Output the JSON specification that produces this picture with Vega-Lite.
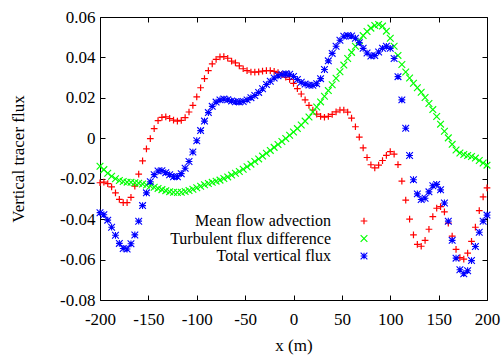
{
"$schema":"https://vega.github.io/schema/vega-lite/v6.json",
"width":387,"height":283,
"autosize":"none",
"padding":{"left":100,"top":17,"right":17,"bottom":59},
"background":"white",
"config":{
 "view":{"stroke":"black","strokeWidth":1},
 "font":"Liberation Serif",
 "axis":{"grid":false,"domain":false,"tickColor":"black","tickSize":-5,"tickWidth":1,"labelFlush":false,"labelOverlap":false,"labelFont":"Liberation Serif","labelFontSize":17,"labelColor":"black","titleFont":"Liberation Serif","titleFontSize":17,"titleFontWeight":"normal","titleColor":"black"},
 "legend":{"labelFont":"Liberation Serif","labelFontSize":16,"labelColor":"black","labelAlign":"right","labelLimit":0,"rowPadding":1.5,"symbolStrokeWidth":1.2,"symbolSize":45,"labelOffset":-41}
},
"datasets":{"d":[
{"x":-200,"flux":-0.0220,"series":"Mean flow advection"},{"x":-196,"flux":-0.0217,"series":"Mean flow advection"},{"x":-192,"flux":-0.0224,"series":"Mean flow advection"},{"x":-188,"flux":-0.0240,"series":"Mean flow advection"},{"x":-184,"flux":-0.0270,"series":"Mean flow advection"},{"x":-180,"flux":-0.0302,"series":"Mean flow advection"},{"x":-176,"flux":-0.0318,"series":"Mean flow advection"},{"x":-172,"flux":-0.0318,"series":"Mean flow advection"},{"x":-168,"flux":-0.0292,"series":"Mean flow advection"},{"x":-164,"flux":-0.0237,"series":"Mean flow advection"},{"x":-160,"flux":-0.0177,"series":"Mean flow advection"},{"x":-156,"flux":-0.0112,"series":"Mean flow advection"},{"x":-152,"flux":-0.0052,"series":"Mean flow advection"},{"x":-148,"flux":-0.0002,"series":"Mean flow advection"},{"x":-144,"flux":0.0048,"series":"Mean flow advection"},{"x":-140,"flux":0.0087,"series":"Mean flow advection"},{"x":-136,"flux":0.0103,"series":"Mean flow advection"},{"x":-132,"flux":0.0106,"series":"Mean flow advection"},{"x":-128,"flux":0.0098,"series":"Mean flow advection"},{"x":-124,"flux":0.0090,"series":"Mean flow advection"},{"x":-120,"flux":0.0085,"series":"Mean flow advection"},{"x":-116,"flux":0.0089,"series":"Mean flow advection"},{"x":-112,"flux":0.0102,"series":"Mean flow advection"},{"x":-108,"flux":0.0130,"series":"Mean flow advection"},{"x":-104,"flux":0.0163,"series":"Mean flow advection"},{"x":-100,"flux":0.0205,"series":"Mean flow advection"},{"x":-96,"flux":0.0250,"series":"Mean flow advection"},{"x":-92,"flux":0.0295,"series":"Mean flow advection"},{"x":-88,"flux":0.0335,"series":"Mean flow advection"},{"x":-84,"flux":0.0368,"series":"Mean flow advection"},{"x":-80,"flux":0.0390,"series":"Mean flow advection"},{"x":-76,"flux":0.0403,"series":"Mean flow advection"},{"x":-72,"flux":0.0404,"series":"Mean flow advection"},{"x":-68,"flux":0.0396,"series":"Mean flow advection"},{"x":-64,"flux":0.0382,"series":"Mean flow advection"},{"x":-60,"flux":0.0373,"series":"Mean flow advection"},{"x":-56,"flux":0.0358,"series":"Mean flow advection"},{"x":-52,"flux":0.0344,"series":"Mean flow advection"},{"x":-48,"flux":0.0335,"series":"Mean flow advection"},{"x":-44,"flux":0.0328,"series":"Mean flow advection"},{"x":-40,"flux":0.0327,"series":"Mean flow advection"},{"x":-36,"flux":0.0329,"series":"Mean flow advection"},{"x":-32,"flux":0.0332,"series":"Mean flow advection"},{"x":-28,"flux":0.0335,"series":"Mean flow advection"},{"x":-24,"flux":0.0335,"series":"Mean flow advection"},{"x":-20,"flux":0.0331,"series":"Mean flow advection"},{"x":-16,"flux":0.0325,"series":"Mean flow advection"},{"x":-12,"flux":0.0316,"series":"Mean flow advection"},{"x":-8,"flux":0.0302,"series":"Mean flow advection"},{"x":-4,"flux":0.0291,"series":"Mean flow advection"},{"x":0,"flux":0.0272,"series":"Mean flow advection"},{"x":4,"flux":0.0246,"series":"Mean flow advection"},{"x":8,"flux":0.0219,"series":"Mean flow advection"},{"x":12,"flux":0.0190,"series":"Mean flow advection"},{"x":16,"flux":0.0163,"series":"Mean flow advection"},{"x":20,"flux":0.0140,"series":"Mean flow advection"},{"x":24,"flux":0.0120,"series":"Mean flow advection"},{"x":28,"flux":0.0108,"series":"Mean flow advection"},{"x":32,"flux":0.0104,"series":"Mean flow advection"},{"x":36,"flux":0.0108,"series":"Mean flow advection"},{"x":40,"flux":0.0118,"series":"Mean flow advection"},{"x":44,"flux":0.0131,"series":"Mean flow advection"},{"x":48,"flux":0.0140,"series":"Mean flow advection"},{"x":52,"flux":0.0140,"series":"Mean flow advection"},{"x":56,"flux":0.0129,"series":"Mean flow advection"},{"x":60,"flux":0.0100,"series":"Mean flow advection"},{"x":64,"flux":0.0057,"series":"Mean flow advection"},{"x":68,"flux":0.0006,"series":"Mean flow advection"},{"x":72,"flux":-0.0047,"series":"Mean flow advection"},{"x":76,"flux":-0.0095,"series":"Mean flow advection"},{"x":80,"flux":-0.0131,"series":"Mean flow advection"},{"x":84,"flux":-0.0146,"series":"Mean flow advection"},{"x":88,"flux":-0.0133,"series":"Mean flow advection"},{"x":92,"flux":-0.0110,"series":"Mean flow advection"},{"x":96,"flux":-0.0085,"series":"Mean flow advection"},{"x":100,"flux":-0.0066,"series":"Mean flow advection"},{"x":104,"flux":-0.0078,"series":"Mean flow advection"},{"x":108,"flux":-0.0130,"series":"Mean flow advection"},{"x":112,"flux":-0.0212,"series":"Mean flow advection"},{"x":116,"flux":-0.0306,"series":"Mean flow advection"},{"x":120,"flux":-0.0400,"series":"Mean flow advection"},{"x":124,"flux":-0.0478,"series":"Mean flow advection"},{"x":128,"flux":-0.0525,"series":"Mean flow advection"},{"x":132,"flux":-0.0534,"series":"Mean flow advection"},{"x":136,"flux":-0.0505,"series":"Mean flow advection"},{"x":140,"flux":-0.0450,"series":"Mean flow advection"},{"x":144,"flux":-0.0388,"series":"Mean flow advection"},{"x":148,"flux":-0.0346,"series":"Mean flow advection"},{"x":152,"flux":-0.0338,"series":"Mean flow advection"},{"x":156,"flux":-0.0364,"series":"Mean flow advection"},{"x":160,"flux":-0.0420,"series":"Mean flow advection"},{"x":164,"flux":-0.0484,"series":"Mean flow advection"},{"x":168,"flux":-0.0550,"series":"Mean flow advection"},{"x":172,"flux":-0.0590,"series":"Mean flow advection"},{"x":176,"flux":-0.0598,"series":"Mean flow advection"},{"x":180,"flux":-0.0568,"series":"Mean flow advection"},{"x":184,"flux":-0.0510,"series":"Mean flow advection"},{"x":188,"flux":-0.0440,"series":"Mean flow advection"},{"x":192,"flux":-0.0358,"series":"Mean flow advection"},{"x":196,"flux":-0.0290,"series":"Mean flow advection"},{"x":200,"flux":-0.0245,"series":"Mean flow advection"},
{"x":-200,"flux":-0.0138,"series":"Turbulent flux difference"},{"x":-196,"flux":-0.0155,"series":"Turbulent flux difference"},{"x":-192,"flux":-0.0173,"series":"Turbulent flux difference"},{"x":-188,"flux":-0.0188,"series":"Turbulent flux difference"},{"x":-184,"flux":-0.0200,"series":"Turbulent flux difference"},{"x":-180,"flux":-0.0209,"series":"Turbulent flux difference"},{"x":-176,"flux":-0.0214,"series":"Turbulent flux difference"},{"x":-172,"flux":-0.0217,"series":"Turbulent flux difference"},{"x":-168,"flux":-0.0218,"series":"Turbulent flux difference"},{"x":-164,"flux":-0.0220,"series":"Turbulent flux difference"},{"x":-160,"flux":-0.0222,"series":"Turbulent flux difference"},{"x":-156,"flux":-0.0226,"series":"Turbulent flux difference"},{"x":-152,"flux":-0.0231,"series":"Turbulent flux difference"},{"x":-148,"flux":-0.0236,"series":"Turbulent flux difference"},{"x":-144,"flux":-0.0242,"series":"Turbulent flux difference"},{"x":-140,"flux":-0.0248,"series":"Turbulent flux difference"},{"x":-136,"flux":-0.0254,"series":"Turbulent flux difference"},{"x":-132,"flux":-0.0259,"series":"Turbulent flux difference"},{"x":-128,"flux":-0.0264,"series":"Turbulent flux difference"},{"x":-124,"flux":-0.0267,"series":"Turbulent flux difference"},{"x":-120,"flux":-0.0268,"series":"Turbulent flux difference"},{"x":-116,"flux":-0.0267,"series":"Turbulent flux difference"},{"x":-112,"flux":-0.0263,"series":"Turbulent flux difference"},{"x":-108,"flux":-0.0258,"series":"Turbulent flux difference"},{"x":-104,"flux":-0.0252,"series":"Turbulent flux difference"},{"x":-100,"flux":-0.0245,"series":"Turbulent flux difference"},{"x":-96,"flux":-0.0237,"series":"Turbulent flux difference"},{"x":-92,"flux":-0.0230,"series":"Turbulent flux difference"},{"x":-88,"flux":-0.0224,"series":"Turbulent flux difference"},{"x":-84,"flux":-0.0218,"series":"Turbulent flux difference"},{"x":-80,"flux":-0.0212,"series":"Turbulent flux difference"},{"x":-76,"flux":-0.0207,"series":"Turbulent flux difference"},{"x":-72,"flux":-0.0199,"series":"Turbulent flux difference"},{"x":-68,"flux":-0.0191,"series":"Turbulent flux difference"},{"x":-64,"flux":-0.0182,"series":"Turbulent flux difference"},{"x":-60,"flux":-0.0173,"series":"Turbulent flux difference"},{"x":-56,"flux":-0.0164,"series":"Turbulent flux difference"},{"x":-52,"flux":-0.0153,"series":"Turbulent flux difference"},{"x":-48,"flux":-0.0141,"series":"Turbulent flux difference"},{"x":-44,"flux":-0.0128,"series":"Turbulent flux difference"},{"x":-40,"flux":-0.0115,"series":"Turbulent flux difference"},{"x":-36,"flux":-0.0102,"series":"Turbulent flux difference"},{"x":-32,"flux":-0.0088,"series":"Turbulent flux difference"},{"x":-28,"flux":-0.0074,"series":"Turbulent flux difference"},{"x":-24,"flux":-0.0060,"series":"Turbulent flux difference"},{"x":-20,"flux":-0.0045,"series":"Turbulent flux difference"},{"x":-16,"flux":-0.0031,"series":"Turbulent flux difference"},{"x":-12,"flux":-0.0016,"series":"Turbulent flux difference"},{"x":-8,"flux":-0.0001,"series":"Turbulent flux difference"},{"x":-4,"flux":0.0015,"series":"Turbulent flux difference"},{"x":0,"flux":0.0031,"series":"Turbulent flux difference"},{"x":4,"flux":0.0048,"series":"Turbulent flux difference"},{"x":8,"flux":0.0066,"series":"Turbulent flux difference"},{"x":12,"flux":0.0085,"series":"Turbulent flux difference"},{"x":16,"flux":0.0105,"series":"Turbulent flux difference"},{"x":20,"flux":0.0130,"series":"Turbulent flux difference"},{"x":24,"flux":0.0155,"series":"Turbulent flux difference"},{"x":28,"flux":0.0180,"series":"Turbulent flux difference"},{"x":32,"flux":0.0208,"series":"Turbulent flux difference"},{"x":36,"flux":0.0236,"series":"Turbulent flux difference"},{"x":40,"flux":0.0265,"series":"Turbulent flux difference"},{"x":44,"flux":0.0297,"series":"Turbulent flux difference"},{"x":48,"flux":0.0329,"series":"Turbulent flux difference"},{"x":52,"flux":0.0362,"series":"Turbulent flux difference"},{"x":56,"flux":0.0395,"series":"Turbulent flux difference"},{"x":60,"flux":0.0425,"series":"Turbulent flux difference"},{"x":64,"flux":0.0455,"series":"Turbulent flux difference"},{"x":68,"flux":0.0483,"series":"Turbulent flux difference"},{"x":72,"flux":0.0508,"series":"Turbulent flux difference"},{"x":76,"flux":0.0528,"series":"Turbulent flux difference"},{"x":80,"flux":0.0545,"series":"Turbulent flux difference"},{"x":84,"flux":0.0558,"series":"Turbulent flux difference"},{"x":88,"flux":0.0563,"series":"Turbulent flux difference"},{"x":92,"flux":0.0555,"series":"Turbulent flux difference"},{"x":96,"flux":0.0530,"series":"Turbulent flux difference"},{"x":100,"flux":0.0495,"series":"Turbulent flux difference"},{"x":104,"flux":0.0455,"series":"Turbulent flux difference"},{"x":108,"flux":0.0410,"series":"Turbulent flux difference"},{"x":112,"flux":0.0365,"series":"Turbulent flux difference"},{"x":116,"flux":0.0328,"series":"Turbulent flux difference"},{"x":120,"flux":0.0298,"series":"Turbulent flux difference"},{"x":124,"flux":0.0272,"series":"Turbulent flux difference"},{"x":128,"flux":0.0250,"series":"Turbulent flux difference"},{"x":132,"flux":0.0228,"series":"Turbulent flux difference"},{"x":136,"flux":0.0202,"series":"Turbulent flux difference"},{"x":140,"flux":0.0172,"series":"Turbulent flux difference"},{"x":144,"flux":0.0142,"series":"Turbulent flux difference"},{"x":148,"flux":0.0108,"series":"Turbulent flux difference"},{"x":152,"flux":0.0070,"series":"Turbulent flux difference"},{"x":156,"flux":0.0035,"series":"Turbulent flux difference"},{"x":160,"flux":0.0002,"series":"Turbulent flux difference"},{"x":164,"flux":-0.0030,"series":"Turbulent flux difference"},{"x":168,"flux":-0.0058,"series":"Turbulent flux difference"},{"x":172,"flux":-0.0073,"series":"Turbulent flux difference"},{"x":176,"flux":-0.0080,"series":"Turbulent flux difference"},{"x":180,"flux":-0.0085,"series":"Turbulent flux difference"},{"x":184,"flux":-0.0090,"series":"Turbulent flux difference"},{"x":188,"flux":-0.0098,"series":"Turbulent flux difference"},{"x":192,"flux":-0.0110,"series":"Turbulent flux difference"},{"x":196,"flux":-0.0122,"series":"Turbulent flux difference"},{"x":200,"flux":-0.0133,"series":"Turbulent flux difference"},
{"x":-200,"flux":-0.0368,"series":"Total vertical flux"},{"x":-196,"flux":-0.0378,"series":"Total vertical flux"},{"x":-192,"flux":-0.0405,"series":"Total vertical flux"},{"x":-188,"flux":-0.0440,"series":"Total vertical flux"},{"x":-184,"flux":-0.0480,"series":"Total vertical flux"},{"x":-180,"flux":-0.0520,"series":"Total vertical flux"},{"x":-176,"flux":-0.0545,"series":"Total vertical flux"},{"x":-172,"flux":-0.0548,"series":"Total vertical flux"},{"x":-168,"flux":-0.0522,"series":"Total vertical flux"},{"x":-164,"flux":-0.0478,"series":"Total vertical flux"},{"x":-160,"flux":-0.0410,"series":"Total vertical flux"},{"x":-156,"flux":-0.0333,"series":"Total vertical flux"},{"x":-152,"flux":-0.0270,"series":"Total vertical flux"},{"x":-148,"flux":-0.0215,"series":"Total vertical flux"},{"x":-144,"flux":-0.0180,"series":"Total vertical flux"},{"x":-140,"flux":-0.0162,"series":"Total vertical flux"},{"x":-136,"flux":-0.0160,"series":"Total vertical flux"},{"x":-132,"flux":-0.0170,"series":"Total vertical flux"},{"x":-128,"flux":-0.0180,"series":"Total vertical flux"},{"x":-124,"flux":-0.0190,"series":"Total vertical flux"},{"x":-120,"flux":-0.0190,"series":"Total vertical flux"},{"x":-116,"flux":-0.0175,"series":"Total vertical flux"},{"x":-112,"flux":-0.0148,"series":"Total vertical flux"},{"x":-108,"flux":-0.0115,"series":"Total vertical flux"},{"x":-104,"flux":-0.0068,"series":"Total vertical flux"},{"x":-100,"flux":-0.0012,"series":"Total vertical flux"},{"x":-96,"flux":0.0038,"series":"Total vertical flux"},{"x":-92,"flux":0.0085,"series":"Total vertical flux"},{"x":-88,"flux":0.0127,"series":"Total vertical flux"},{"x":-84,"flux":0.0158,"series":"Total vertical flux"},{"x":-80,"flux":0.0179,"series":"Total vertical flux"},{"x":-76,"flux":0.0190,"series":"Total vertical flux"},{"x":-72,"flux":0.0194,"series":"Total vertical flux"},{"x":-68,"flux":0.0191,"series":"Total vertical flux"},{"x":-64,"flux":0.0185,"series":"Total vertical flux"},{"x":-60,"flux":0.0181,"series":"Total vertical flux"},{"x":-56,"flux":0.0180,"series":"Total vertical flux"},{"x":-52,"flux":0.0182,"series":"Total vertical flux"},{"x":-48,"flux":0.0190,"series":"Total vertical flux"},{"x":-44,"flux":0.0201,"series":"Total vertical flux"},{"x":-40,"flux":0.0212,"series":"Total vertical flux"},{"x":-36,"flux":0.0227,"series":"Total vertical flux"},{"x":-32,"flux":0.0245,"series":"Total vertical flux"},{"x":-28,"flux":0.0266,"series":"Total vertical flux"},{"x":-24,"flux":0.0282,"series":"Total vertical flux"},{"x":-20,"flux":0.0298,"series":"Total vertical flux"},{"x":-16,"flux":0.0309,"series":"Total vertical flux"},{"x":-12,"flux":0.0316,"series":"Total vertical flux"},{"x":-8,"flux":0.0319,"series":"Total vertical flux"},{"x":-4,"flux":0.0317,"series":"Total vertical flux"},{"x":0,"flux":0.0306,"series":"Total vertical flux"},{"x":4,"flux":0.0291,"series":"Total vertical flux"},{"x":8,"flux":0.0277,"series":"Total vertical flux"},{"x":12,"flux":0.0268,"series":"Total vertical flux"},{"x":16,"flux":0.0263,"series":"Total vertical flux"},{"x":20,"flux":0.0262,"series":"Total vertical flux"},{"x":24,"flux":0.0270,"series":"Total vertical flux"},{"x":28,"flux":0.0295,"series":"Total vertical flux"},{"x":32,"flux":0.0340,"series":"Total vertical flux"},{"x":36,"flux":0.0383,"series":"Total vertical flux"},{"x":40,"flux":0.0420,"series":"Total vertical flux"},{"x":44,"flux":0.0455,"series":"Total vertical flux"},{"x":48,"flux":0.0485,"series":"Total vertical flux"},{"x":52,"flux":0.0505,"series":"Total vertical flux"},{"x":56,"flux":0.0508,"series":"Total vertical flux"},{"x":60,"flux":0.0506,"series":"Total vertical flux"},{"x":64,"flux":0.0495,"series":"Total vertical flux"},{"x":68,"flux":0.0473,"series":"Total vertical flux"},{"x":72,"flux":0.0445,"series":"Total vertical flux"},{"x":76,"flux":0.0422,"series":"Total vertical flux"},{"x":80,"flux":0.0407,"series":"Total vertical flux"},{"x":84,"flux":0.0409,"series":"Total vertical flux"},{"x":88,"flux":0.0427,"series":"Total vertical flux"},{"x":92,"flux":0.0445,"series":"Total vertical flux"},{"x":96,"flux":0.0455,"series":"Total vertical flux"},{"x":100,"flux":0.0445,"series":"Total vertical flux"},{"x":104,"flux":0.0395,"series":"Total vertical flux"},{"x":108,"flux":0.0305,"series":"Total vertical flux"},{"x":112,"flux":0.0190,"series":"Total vertical flux"},{"x":116,"flux":0.0050,"series":"Total vertical flux"},{"x":120,"flux":-0.0085,"series":"Total vertical flux"},{"x":124,"flux":-0.0205,"series":"Total vertical flux"},{"x":128,"flux":-0.0275,"series":"Total vertical flux"},{"x":132,"flux":-0.0303,"series":"Total vertical flux"},{"x":136,"flux":-0.0297,"series":"Total vertical flux"},{"x":140,"flux":-0.0265,"series":"Total vertical flux"},{"x":144,"flux":-0.0235,"series":"Total vertical flux"},{"x":148,"flux":-0.0228,"series":"Total vertical flux"},{"x":152,"flux":-0.0255,"series":"Total vertical flux"},{"x":156,"flux":-0.0320,"series":"Total vertical flux"},{"x":160,"flux":-0.0410,"series":"Total vertical flux"},{"x":164,"flux":-0.0505,"series":"Total vertical flux"},{"x":168,"flux":-0.0593,"series":"Total vertical flux"},{"x":172,"flux":-0.0650,"series":"Total vertical flux"},{"x":176,"flux":-0.0670,"series":"Total vertical flux"},{"x":180,"flux":-0.0655,"series":"Total vertical flux"},{"x":184,"flux":-0.0605,"series":"Total vertical flux"},{"x":188,"flux":-0.0535,"series":"Total vertical flux"},{"x":192,"flux":-0.0465,"series":"Total vertical flux"},{"x":196,"flux":-0.0410,"series":"Total vertical flux"},{"x":200,"flux":-0.0380,"series":"Total vertical flux"}
]},
"layer":[
 {"data":{"name":"d"},
  "mark":{"type":"point","filled":false,"opacity":1,"size":45},
  "encoding":{
   "x":{"field":"x","type":"quantitative","scale":{"domain":[-200,200],"nice":false,"zero":false},
        "axis":{"title":"x (m)","values":[-200,-150,-100,-50,0,50,100,150,200],"labelPadding":16,"titlePadding":10,"labelExpr":"replace(datum.label,'\u2212','-')"}},
   "y":{"field":"flux","type":"quantitative","scale":{"domain":[-0.08,0.06],"nice":false,"zero":false},
        "axis":{"title":"Vertical tracer flux","values":[-0.08,-0.06,-0.04,-0.02,0,0.02,0.04,0.06],"labelPadding":10,"titlePadding":32,"labelExpr":"datum.value==0?'0':replace(format(datum.value,'.2f'),'\u2212','-')"}},
   "color":{"field":"series","type":"nominal",
     "scale":{"domain":["Mean flow advection","Turbulent flux difference","Total vertical flux"],"range":["#ff0000","#00ff00","#0000ff"]},
     "legend":{"title":null,"orient":"none","legendX":256,"legendY":196}},
   "shape":{"field":"series","type":"nominal",
     "scale":{"domain":["Mean flow advection","Turbulent flux difference","Total vertical flux"],"range":["M-1,0H1M0,-1V1","M-1,-1L1,1M-1,1L1,-1","M-1,0H1M0,-1V1M-1,-1L1,1M-1,1L1,-1"]},
     "legend":{"title":null,"orient":"none","legendX":256,"legendY":196}},
   "strokeWidth":{"field":"series","type":"nominal",
     "scale":{"domain":["Mean flow advection","Turbulent flux difference","Total vertical flux"],"range":[1.2,1.1,1.7]},
     "legend":null}
  }},
 {"data":{"name":"d"},
  "mark":{"type":"point","opacity":0},
  "encoding":{
   "x":{"field":"x","type":"quantitative","scale":{"domain":[-200,200],"nice":false,"zero":false},
        "axis":{"orient":"top","title":null,"labels":false,"values":[-200,-150,-100,-50,0,50,100,150,200]}},
   "y":{"field":"flux","type":"quantitative","scale":{"domain":[-0.08,0.06],"nice":false,"zero":false},
        "axis":{"orient":"right","title":null,"labels":false,"values":[-0.08,-0.06,-0.04,-0.02,0,0.02,0.04,0.06]}}
  }}
],
"resolve":{"axis":{"x":"independent","y":"independent"}}
}
